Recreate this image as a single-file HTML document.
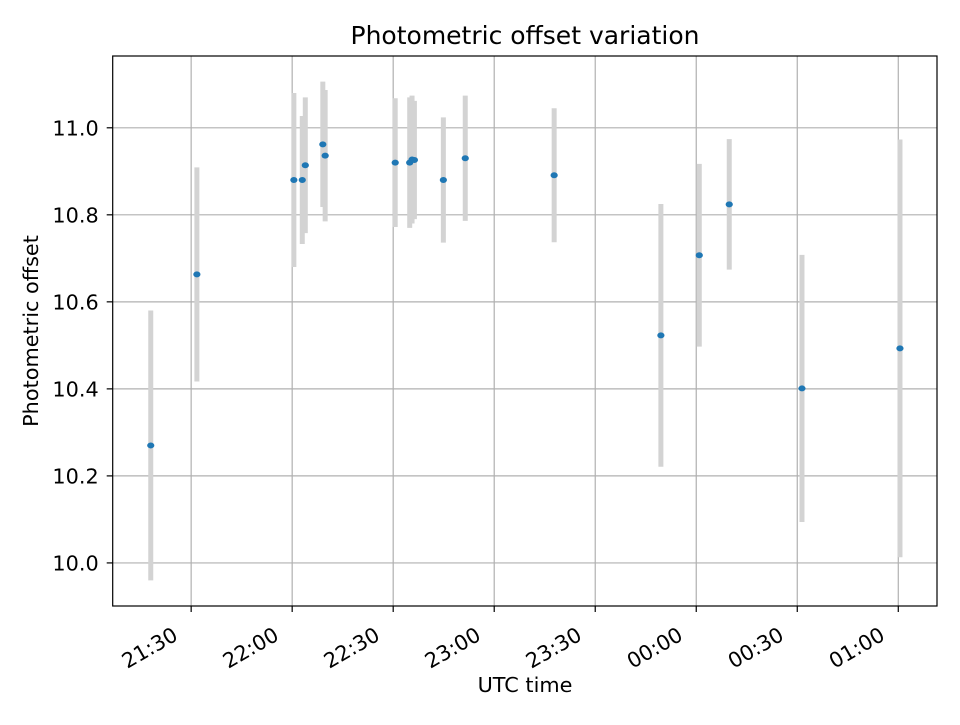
<!DOCTYPE html>
<html><head><meta charset="utf-8"><style>
body{margin:0;background:#fff;}
svg text{font-family:"DejaVu Sans","Liberation Sans",sans-serif;fill:#000;}
</style></head><body>
<svg id="chart" width="960" height="720" xmlns="http://www.w3.org/2000/svg">
<rect width="960" height="720" fill="#fff"/>
<g id="grid"></g>
<g id="errs"></g>
<g id="pts"></g>
<rect x="112.7" y="56" width="824.3" height="550" fill="none" stroke="#000" stroke-width="1.2"/>
<g id="ticks"></g>
<text x="525" y="44" font-size="25" text-anchor="middle">Photometric offset variation</text>
<text x="525" y="692" font-size="20.8" text-anchor="middle">UTC time</text>
<text transform="translate(38,331) rotate(-90)" font-size="20.8" text-anchor="middle">Photometric offset</text>
</svg>
<script>
// minutes since 21:30 UTC
const times = [-12, 1.7, 30.5, 33, 33.9, 39.1, 39.8, 60.6, 64.9, 65.6, 66.3, 74.9, 81.4, 107.8, 139.5, 150.9, 159.8, 181.4, 210.5];
const offsets = [10.27, 10.663, 10.88, 10.88, 10.914, 10.962, 10.936, 10.92, 10.92, 10.927, 10.926, 10.88, 10.93, 10.891, 10.523, 10.707, 10.824, 10.401, 10.493];
const errors = [0.31, 0.246, 0.2, 0.147, 0.156, 0.144, 0.151, 0.148, 0.15, 0.147, 0.136, 0.144, 0.144, 0.154, 0.302, 0.21, 0.15, 0.307, 0.48];
const xTickMins = [0, 30, 60, 90, 120, 150, 180, 210];
const xTickLabels = ["21:30","22:00","22:30","23:00","23:30","00:00","00:30","01:00"];
const yTicks = [10.0, 10.2, 10.4, 10.6, 10.8, 11.0];
const yTickLabels = ["10.0","10.2","10.4","10.6","10.8","11.0"];

const L=112.7,R=937,T=56,B=606;
const xMin=-23.3,xMax=221.5,yMin=9.901,yMax=11.165;
const X=m=>L+(m-xMin)/(xMax-xMin)*(R-L);
const Y=v=>B-(v-yMin)/(yMax-yMin)*(B-T);
const NS="http://www.w3.org/2000/svg";
function mk(tag,attrs,parent){const e=document.createElementNS(NS,tag);for(const k in attrs)e.setAttribute(k,attrs[k]);parent.appendChild(e);return e;}
const grid=document.getElementById('grid'),ticks=document.getElementById('ticks'),errs=document.getElementById('errs'),pts=document.getElementById('pts');
xTickMins.forEach((m,i)=>{
  const x=X(m);
  const g=mk('line',{x1:x,x2:x,y1:T,y2:B,stroke:'#b0b0b0','stroke-width':1.2},grid);
  
  
  const t=mk('line',{x1:x,x2:x,y1:B,y2:B+6,stroke:'#000','stroke-width':1.2},ticks);
  
  
  const ax=x-12, ay=B+33;
  const lb=mk('text',{x:ax,y:ay,'font-size':20.8,'text-anchor':'end',transform:`rotate(-30 ${ax} ${ay})`},ticks);
  lb.textContent=xTickLabels[i];
  
  
});
yTicks.forEach((v,i)=>{
  const y=Y(v);
  const g=mk('line',{x1:L,x2:R,y1:y,y2:y,stroke:'#b0b0b0','stroke-width':1.2},grid);
  
  
  const t=mk('line',{x1:L-6,x2:L,y1:y,y2:y,stroke:'#000','stroke-width':1.2},ticks);
  
  
  const lb=mk('text',{x:L-14,y:y+7.5,'font-size':20.8,'text-anchor':'end'},ticks);
  lb.textContent=yTickLabels[i];
  
  
});
times.forEach((m,i)=>{
  const x=X(m);
  const e=mk('line',{x1:x,x2:x,y1:Y(offsets[i]+errors[i]),y2:Y(offsets[i]-errors[i]),stroke:'#d3d3d3','stroke-width':5},errs);
  
  
  const c=mk('ellipse',{cx:x,cy:Y(offsets[i]),rx:3.6,ry:3,fill:'#1f77b4'},pts);
  
  
});
</script>
</body></html>
